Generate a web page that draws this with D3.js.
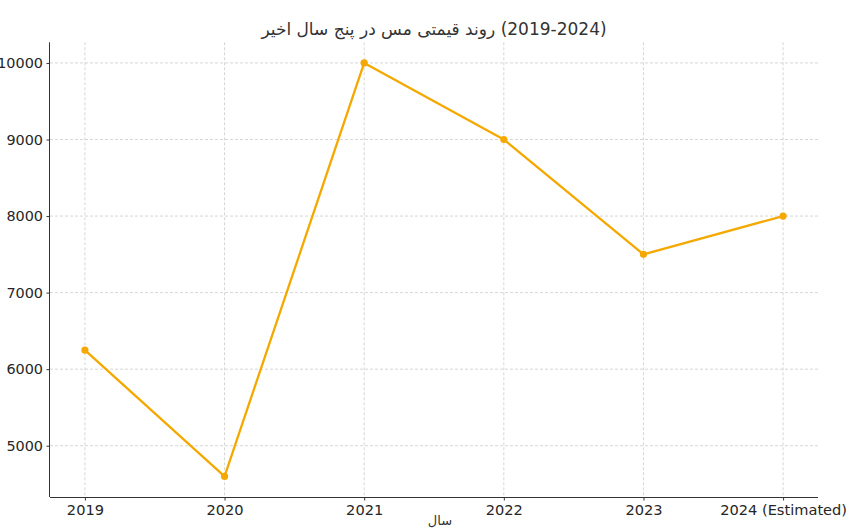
<!DOCTYPE html>
<html>
<head>
<meta charset="utf-8">
<script src="https://cdn.jsdelivr.net/npm/d3@7"></script>
<style>
  html, body { margin: 0; padding: 0; background: #fff; }
  svg { display: block; font-family: "DejaVu Sans", sans-serif; }
</style>
</head>
<body>
<svg id="chart" width="859" height="528"></svg>
<script>
const years = ["2019", "2020", "2021", "2022", "2023", "2024 (Estimated)"];
const prices = [6250, 4600, 10000, 9000, 7500, 8000];
const yTicks = [5000, 6000, 7000, 8000, 9000, 10000];
const titleMain = "روند قیمتی مس در پنج سال اخیر";
const titleYears = "(2019-2024)";
const xLabelText = "سال";

(function () {
const svg = d3.select("#chart");
const mLeft = 50, mRight = 818, mTop = 42.3, mBottom = 497;

const idx = d3.range(years.length);
const x = d3.scaleLinear().domain([-0.25, years.length - 1 + 0.25]).range([mLeft, mRight]);
const yMin = d3.min(prices), yMax = d3.max(prices), pad = (yMax - yMin) * 0.05;
const y = d3.scaleLinear().domain([yMin - pad, yMax + pad]).range([mBottom, mTop]);

// grid
const grid = svg.append("g");
grid.selectAll("line.gx").data(idx).join("line")
  .attr("x1", d => x(d)).attr("x2", d => x(d))
  .attr("y1", mTop).attr("y2", mBottom)
  .attr("stroke", "#cccccc").attr("stroke-width", 0.8).attr("stroke-dasharray", "3,2");
grid.selectAll("line.gy").data(yTicks).join("line")
  .attr("x1", mLeft).attr("x2", mRight)
  .attr("y1", d => y(d)).attr("y2", d => y(d))
  .attr("stroke", "#cccccc").attr("stroke-width", 0.8).attr("stroke-dasharray", "3,2");

// axes
const xAxis = d3.axisBottom(x).tickValues(idx).tickFormat(i => years[i]).tickSize(3.5).tickPadding(4);
const gx = svg.append("g").attr("transform", `translate(0,${mBottom})`).call(xAxis);
gx.select(".domain").attr("stroke", "#333").attr("stroke-width", 1).attr("d", `M${mLeft},0.5H${mRight}`);
gx.selectAll(".tick line").attr("stroke", "#333");
gx.selectAll(".tick text").attr("fill", "#262626").style("font-size", "14.6px").style("font-family", "DejaVu Sans");

const yAxis = d3.axisLeft(y).tickValues(yTicks).tickFormat(d3.format("d")).tickSize(3.5).tickPadding(3.5);
const gy = svg.append("g").attr("transform", `translate(${mLeft},0)`).call(yAxis);
gy.select(".domain").attr("stroke", "#333").attr("stroke-width", 1).attr("d", `M-0.5,${mTop}V${mBottom}`);
gy.selectAll(".tick line").attr("stroke", "#333");
gy.selectAll(".tick text").attr("fill", "#262626").style("font-size", "14.4px").style("font-family", "DejaVu Sans");

// line
const line = d3.line().x((d, i) => x(i)).y(d => y(d));
svg.append("path").datum(prices)
  .attr("d", line).attr("fill", "none")
  .attr("stroke", "#f5a800").attr("stroke-width", 2.3).attr("stroke-linejoin", "round");
svg.selectAll("circle.pt").data(prices).join("circle")
  .attr("cx", (d, i) => x(i)).attr("cy", d => y(d)).attr("r", 3.6)
  .attr("fill", "#f5a800");

// title: Persian phrase on the left, year range to its right (two separate texts)
const tg = svg.append("g").attr("class", "title");
const t1 = tg.append("text").attr("y", 35).attr("text-anchor", "middle").attr("fill", "#333")
  .style("font-size", "17px").style("font-family", "DejaVu Sans").text(titleMain);
const t2 = tg.append("text").attr("y", 35).attr("text-anchor", "middle").attr("fill", "#333")
  .style("font-size", "17px").style("font-family", "DejaVu Sans").text(titleYears);
const gap = 5.5;
const w1 = t1.node().getComputedTextLength();
const w2 = t2.node().getComputedTextLength();
const x0 = (mLeft + mRight) / 2 - (w1 + gap + w2) / 2;
t1.attr("x", x0 + w1 / 2);
t2.attr("x", x0 + w1 + gap + w2 / 2);

// x label
svg.append("text").attr("x", 440).attr("y", 525)
  .attr("text-anchor", "middle").attr("fill", "#333")
  .style("font-size", "13px").style("font-family", "DejaVu Sans")
  .text(xLabelText);
})();
</script>
</body>
</html>
